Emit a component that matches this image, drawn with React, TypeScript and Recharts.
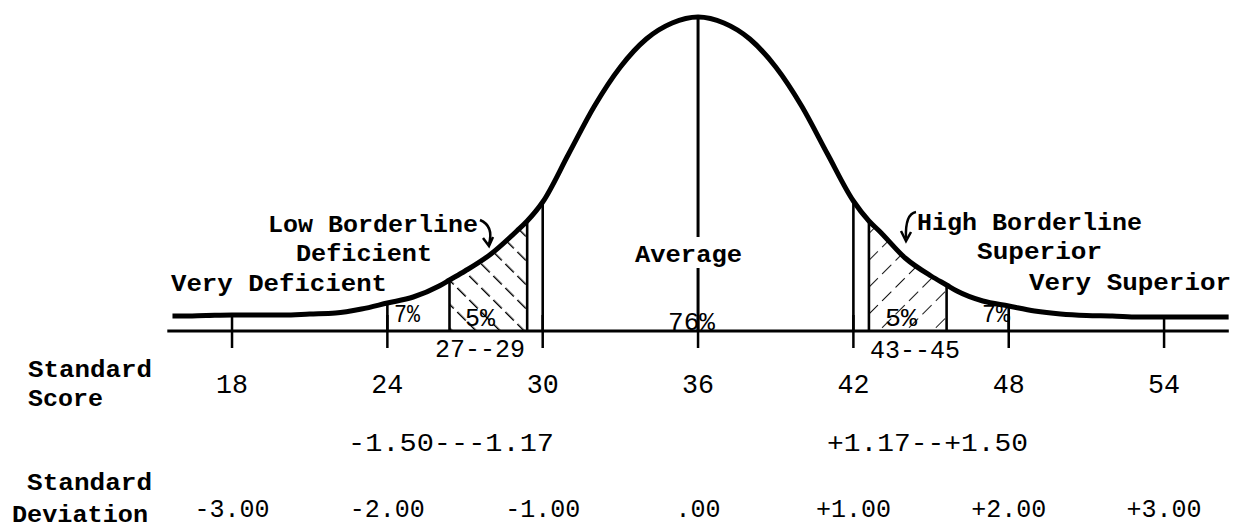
import React from 'react';
import { ComposedChart, Line, Area, XAxis, YAxis, ReferenceLine } from 'recharts';

// standard scores along the baseline and the curve height
const scores = [
  15.7, 16, 17, 18, 19, 20, 21, 22, 23, 24, 25, 26, 26.4, 27, 28, 29, 29.4, 30,
  31, 32, 33, 34, 35, 36, 37, 38, 39, 40, 41, 42, 42.6, 43, 44, 45, 45.6, 46,
  47, 48, 49, 50, 51, 52, 53, 54, 55, 56, 56.5,
];
const heights = [
  15, 15, 15.5, 16, 16, 16, 17, 18, 22, 28, 34, 45, 51, 60, 77, 100, 110, 129,
  177, 225, 264, 292, 308, 314, 308, 292, 264, 225, 177, 130, 110, 100, 73, 55, 46, 40,
  30, 25, 20, 17, 15.5, 15, 14, 14, 14, 14, 14,
];

// hatched borderline bands (27--29 and 43--45)
const lowBand = [26.4, 27, 28, 29, 29.4];
const highBand = [42.6, 43, 44, 45, 45.6];

// vertical dividers under the curve
const dividerScores = [24, 26.4, 29.4, 30, 42, 42.6, 45.6, 48];
const dividerTops = [28, 51, 110, 129, 130, 110, 46, 25];

// centre line, broken around the "Average" label
const centerScore = 36;
const centerSegments = [
  [0, 63],
  [94, 314],
];

const tickScores = [18, 24, 30, 36, 42, 48, 54];
const sdLabels = ['-3.00', '-2.00', '-1.00', '.00', '+1.00', '+2.00', '+3.00'];

const rows = scores.map((s, i) => ({
  s,
  h: heights[i],
  low: lowBand.includes(s) ? heights[i] : null,
  high: highBand.includes(s) ? heights[i] : null,
}));

const FONT = '"Liberation Mono", "DejaVu Sans Mono", monospace';

const ScoreTick = (props: any) => {
  const { x, y, payload } = props;
  const i = tickScores.indexOf(payload.value);
  const sd = sdLabels[i] || '';
  return (
    <g>
      <line x1={x} x2={x} y1={y - 16} y2={y + 17} stroke="#000" strokeWidth={2.5} />
      <text
        x={x}
        y={y + 62}
        textAnchor="middle"
        fontFamily={FONT}
        fontSize={27}
        fill="#000"
        textLength={32}
        lengthAdjust="spacingAndGlyphs"
      >
        {payload.value}
      </text>
      <text
        x={x}
        y={y + 186}
        textAnchor="middle"
        fontFamily={FONT}
        fontSize={25}
        fill="#000"
        textLength={sd.length * 15}
        lengthAdjust="spacingAndGlyphs"
      >
        {sd}
      </text>
    </g>
  );
};

// free annotations: text, left x, baseline y, width, bold
const notes: [string, number, number, number, boolean][] = [
  ['Low Borderline', 268, 232, 210, true],
  ['Deficient', 296, 261, 136, true],
  ['Very Deficient', 171, 291, 216, true],
  ['Average', 635, 262, 107, true],
  ['High Borderline', 917, 230, 225, true],
  ['Superior', 977, 259, 125, true],
  ['Very Superior', 1029, 290, 202, true],
  ['7%', 394, 322, 26, false],
  ['5%', 465, 326, 30, false],
  ['76%', 668, 330, 47, false],
  ['5%', 885, 326, 32, false],
  ['7%', 982, 322, 28, false],
  ['27--29', 435, 357, 90, false],
  ['43--45', 870, 358, 90, false],
  ['-1.50---1.17', 348, 451, 206, false],
  ['+1.17--+1.50', 827, 451, 201, false],
  ['Standard', 28, 377, 124, true],
  ['Score', 28, 406, 75, true],
  ['Standard', 27, 490, 125, true],
  ['Deviation', 12, 522, 136, true],
];

export default function App() {
  return (
    <div style={{ position: 'absolute', left: 0, top: 0, width: 1234, height: 530, background: '#fff' }}>
      <svg width={0} height={0} style={{ position: 'absolute' }}>
        <defs>
          <pattern id="hatchLow" patternUnits="userSpaceOnUse" width={17} height={17} patternTransform="rotate(-45)">
            <line x1={0} y1={0} x2={0} y2={17} stroke="#000" strokeWidth={2.8} strokeDasharray="12 5" />
          </pattern>
          <pattern id="hatchHigh" patternUnits="userSpaceOnUse" width={19} height={19} patternTransform="rotate(45)">
            <line x1={0} y1={0} x2={0} y2={19} stroke="#000" strokeWidth={1.8} strokeDasharray="7 6" />
          </pattern>
        </defs>
      </svg>
      <ComposedChart
        width={1234}
        height={530}
        data={rows}
        margin={{ top: 11, right: 5.2, bottom: 0, left: 167.3 }}
      >
        <XAxis
          dataKey="s"
          type="number"
          domain={[15.5, 56.5]}
          ticks={tickScores}
          interval={0}
          height={199}
          tickSize={0}
          tickMargin={0}
          tickLine={false}
          axisLine={{ stroke: '#000', strokeWidth: 3 }}
          tick={<ScoreTick />}
          allowDataOverflow
        />
        <YAxis hide type="number" domain={[0, 320]} allowDataOverflow />
        <Area
          dataKey="low"
          type="monotone"
          baseValue={0}
          fill="url(#hatchLow)"
          fillOpacity={1}
          stroke="none"
          connectNulls={false}
          dot={false}
          activeDot={false}
          isAnimationActive={false}
        />
        <Area
          dataKey="high"
          type="monotone"
          baseValue={0}
          fill="url(#hatchHigh)"
          fillOpacity={1}
          stroke="none"
          connectNulls={false}
          dot={false}
          activeDot={false}
          isAnimationActive={false}
        />
        {dividerScores.map((s, i) => (
          <ReferenceLine
            key={'d' + i}
            segment={[
              { x: s, y: 0 },
              { x: s, y: dividerTops[i] },
            ]}
            stroke="#000"
            strokeWidth={2.6}
            ifOverflow="visible"
          />
        ))}
        {centerSegments.map((seg, i) => (
          <ReferenceLine
            key={'c' + i}
            segment={[
              { x: centerScore, y: seg[0] },
              { x: centerScore, y: seg[1] },
            ]}
            stroke="#000"
            strokeWidth={3}
            ifOverflow="visible"
          />
        ))}
        <Line
          dataKey="h"
          type="monotone"
          stroke="#000"
          strokeWidth={5}
          dot={false}
          activeDot={false}
          isAnimationActive={false}
        />
      </ComposedChart>
      <svg
        width={1234}
        height={530}
        style={{ position: 'absolute', left: 0, top: 0, pointerEvents: 'none' }}
      >
        {notes.map(([t, x, y, w, bold], i) => (
          <text
            key={i}
            x={x}
            y={y}
            fontFamily={FONT}
            fontSize={bold ? 24 : 25}
            fontWeight={bold ? 'bold' : 'normal'}
            fill="#000"
            textLength={w}
            lengthAdjust="spacingAndGlyphs"
          >
            {t}
          </text>
        ))}
        <path d="M480 220 Q494 226 489 244" fill="none" stroke="#000" strokeWidth={2.5} />
        <path d="M483 238 L489 246 L493 237" fill="none" stroke="#000" strokeWidth={2.5} />
        <path d="M916 212 Q905 214 906 238" fill="none" stroke="#000" strokeWidth={2.5} />
        <path d="M901 231 L906 241 L911 232" fill="none" stroke="#000" strokeWidth={2.5} />
      </svg>
    </div>
  );
}
